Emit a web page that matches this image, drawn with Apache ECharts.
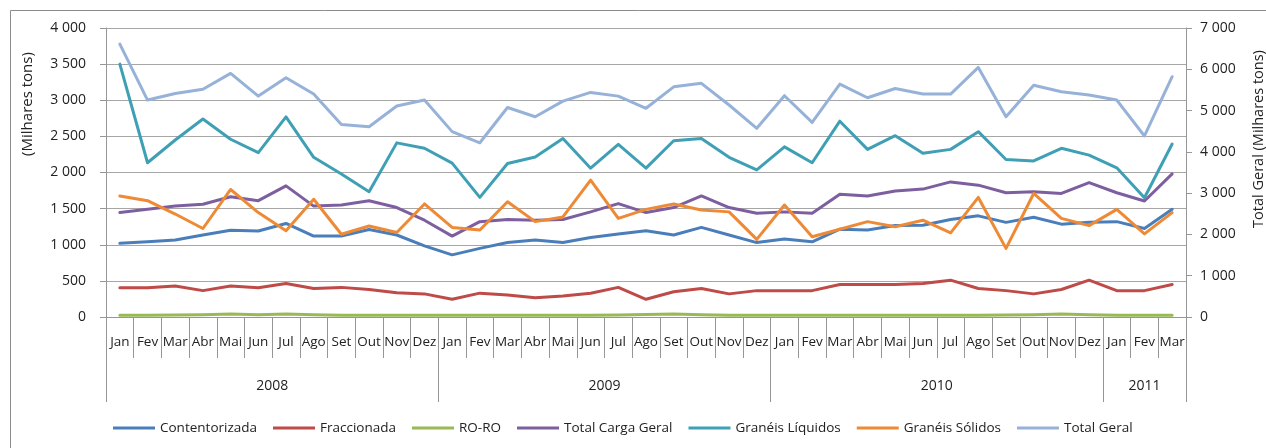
<!doctype html>
<html lang="pt">
<head>
  <meta charset="UTF-8">
  <script src="https://cdn.jsdelivr.net/npm/echarts@6/dist/echarts.min.js"></script>
  <title>Movimento de carga</title>
  <style type="text/css">
    html, body { margin: 0; padding: 0; background: #ffffff; }
    #canvas { width: 1266px; height: 448px; }
  </style>
</head>
<body>
<div id="canvas"></div>

<script type="text/javascript">
  // categories
  const monthNames = ['Jan', 'Fev', 'Mar', 'Abr', 'Mai', 'Jun', 'Jul', 'Ago', 'Set', 'Out', 'Nov', 'Dez']
  const years = ['2008', '2009', '2010', '2011']
  const monthsPerYear = [12, 12, 12, 3]

  // series (milhares de toneladas)
  const contentorizada = [
    1020, 1040, 1065, 1135, 1200, 1190, 1295, 1120, 1120, 1210, 1135, 985,
    860, 950, 1030, 1065, 1030, 1100, 1150, 1195, 1135, 1240, 1135, 1030,
    1080, 1040, 1215, 1205, 1265, 1270, 1350, 1400, 1310, 1380, 1285, 1310,
    1320, 1225, 1490
  ]
  const fraccionada = [
    405, 405, 430, 365, 430, 405, 465, 395, 410, 380, 335, 320,
    245, 330, 305, 265, 290, 330, 410, 245, 350, 395, 320, 365,
    365, 365, 450, 450, 450, 465, 510, 395, 365, 320, 380, 510,
    365, 365, 450
  ]
  const roro = [
    25, 25, 28, 30, 40, 30, 40, 30, 25, 25, 25, 25,
    25, 25, 25, 25, 25, 25, 28, 35, 40, 30, 25, 25,
    25, 25, 25, 25, 25, 25, 25, 25, 28, 32, 40, 30,
    25, 25, 25
  ]
  const totalCargaGeral = [
    1445, 1490, 1535, 1560, 1665, 1610, 1815, 1535, 1550, 1610, 1515, 1340,
    1120, 1320, 1350, 1340, 1350, 1455, 1570, 1445, 1515, 1675, 1515, 1435,
    1455, 1435, 1700, 1675, 1745, 1770, 1870, 1825, 1720, 1735, 1710, 1860,
    1720, 1605, 1980
  ]
  const graneisLiquidos = [
    3500, 2135, 2450, 2740, 2460, 2275, 2770, 2210, 1980, 1735, 2410, 2335,
    2130, 1655, 2125, 2215, 2470, 2060, 2390, 2060, 2440, 2470, 2210, 2035,
    2355, 2135, 2710, 2320, 2510, 2265, 2320, 2565, 2180, 2160, 2335, 2240,
    2065, 1650, 2395
  ]
  const graneisSolidos = [
    1675, 1610, 1425, 1225, 1765, 1445, 1195, 1630, 1145, 1260, 1170, 1565,
    1240, 1205, 1595, 1320, 1385, 1895, 1365, 1490, 1565, 1480, 1455, 1075,
    1550, 1110, 1215, 1320, 1250, 1340, 1165, 1655, 950, 1710, 1365, 1265,
    1490, 1150, 1445
  ]
  const totalGeral = [
    6610, 5255, 5415, 5515, 5900, 5350, 5795, 5400, 4665, 4610, 5110, 5255,
    4490, 4220, 5075, 4850, 5230, 5440, 5350, 5055, 5575, 5660, 5135, 4570,
    5360, 4715, 5640, 5310, 5535, 5400, 5400, 6045, 4850, 5615, 5455, 5375,
    5255, 4385, 5820
  ]

  // build month labels and year boundaries
  const months = []
  const yearBounds = [0]
  const yearMids = []
  monthsPerYear.forEach((n, i) => {
    for (let m = 0; m < n; m++) months.push(monthNames[m])
    const start = yearBounds[yearBounds.length - 1]
    yearMids.push(start + n / 2)
    yearBounds.push(start + n)
  })

  const fmt = v => String(v).replace(/\B(?=(\d{3})+(?!\d))/g, ' ')

  const font = 'Open Sans'
  const gray = '#969696'
  const textColor = '#222222'

  const canvas = document.getElementById('canvas')
  const chart = echarts.init(canvas)

  const line = (name, data, color, yAxisIndex) => ({
    name: name,
    type: 'line',
    data: data,
    yAxisIndex: yAxisIndex || 0,
    xAxisIndex: 0,
    showSymbol: false,
    symbol: 'none',
    smooth: false,
    lineStyle: { width: 3, color: color, cap: 'round', join: 'round' },
    itemStyle: { color: color },
    emphasis: { disabled: true },
  })

  chart.setOption({
    animation: false,
    textStyle: { fontFamily: font },
    grid: { left: 106, right: 80, top: 28, bottom: 131, containLabel: false },
    graphic: [
      {
        type: 'rect',
        shape: { x: 10.5, y: 10.5, width: 1300, height: 500 },
        style: { fill: 'none', stroke: '#8c8c8c', lineWidth: 1 },
        silent: true,
      },
      {
        type: 'text',
        x: 28, y: 104, rotation: Math.PI / 2,
        style: { text: '(Milhares tons)', fontFamily: font, fontSize: 15, fill: textColor, textAlign: 'center', textVerticalAlign: 'middle' },
      },
      {
        type: 'text',
        x: 1259, y: 139, rotation: Math.PI / 2,
        style: { text: 'Total Geral (Milhares tons)', fontFamily: font, fontSize: 14.5, fill: textColor, textAlign: 'center', textVerticalAlign: 'middle' },
      },
    ],
    legend: {
      top: 416,
      left: 108,
      itemWidth: 42,
      itemHeight: 3,
      itemGap: 16,
      icon: 'rect',
      textStyle: { fontFamily: font, fontSize: 13.5, color: textColor },
      data: ['Contentorizada', 'Fraccionada', 'RO-RO', 'Total Carga Geral', 'Granéis Líquidos', 'Granéis Sólidos', 'Total Geral'],
    },
    xAxis: [
      {
        type: 'category',
        data: months,
        boundaryGap: true,
        position: 'bottom',
        axisLine: { show: true, lineStyle: { color: gray, width: 1 } },
        axisTick: { show: true, interval: 0, length: 41, lineStyle: { color: gray } },
        axisLabel: { interval: 0, margin: 18, fontSize: 13.5, color: textColor, fontFamily: font },
        splitLine: { show: false },
      },
      {
        type: 'value',
        min: 0,
        max: yearBounds[yearBounds.length - 1],
        position: 'bottom',
        axisLine: { show: false },
        axisTick: { show: true, customValues: yearBounds, length: 85, lineStyle: { color: gray } },
        axisLabel: {
          show: true,
          customValues: yearMids,
          margin: 62,
          fontSize: 14,
          color: textColor,
          fontFamily: font,
          formatter: v => years[yearMids.indexOf(v)] || '',
        },
        splitLine: { show: false },
      },
    ],
    yAxis: [
      {
        type: 'value',
        min: 0,
        max: 4000,
        interval: 500,
        position: 'left',
        axisLine: { show: true, lineStyle: { color: gray } },
        axisTick: { show: true, length: 6, lineStyle: { color: gray } },
        axisLabel: { margin: 20, fontSize: 14, color: textColor, fontFamily: font, formatter: fmt },
        splitLine: { show: true, lineStyle: { color: '#a6a6a6', width: 1 } },
      },
      {
        type: 'value',
        min: 0,
        max: 7000,
        interval: 1000,
        position: 'right',
        axisLine: { show: true, lineStyle: { color: gray } },
        axisTick: { show: true, length: 6, lineStyle: { color: gray } },
        axisLabel: { margin: 14, fontSize: 14, color: textColor, fontFamily: font, formatter: fmt },
        splitLine: { show: false },
      },
    ],
    series: [
      line('Contentorizada', contentorizada, '#4A7EBB'),
      line('Fraccionada', fraccionada, '#BE4B48'),
      line('RO-RO', roro, '#98B954'),
      line('Total Carga Geral', totalCargaGeral, '#7D5FA0'),
      line('Granéis Líquidos', graneisLiquidos, '#3FA0B5'),
      line('Granéis Sólidos', graneisSolidos, '#EE8A35'),
      line('Total Geral', totalGeral, '#97B2D9', 1),
    ],
  })
</script>
</body>
</html>
